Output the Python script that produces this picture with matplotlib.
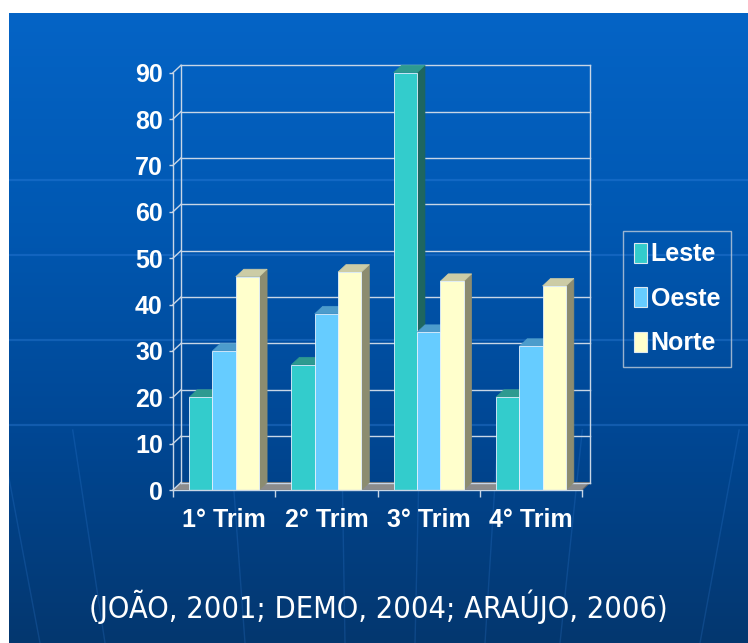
import numpy as np
import matplotlib
matplotlib.use("Agg")
import matplotlib.pyplot as plt
from matplotlib import font_manager
from matplotlib.colors import LinearSegmentedColormap
from matplotlib.patches import Polygon, Rectangle

# dados do grafico
trimestres = ["1° Trim", "2° Trim", "3° Trim", "4° Trim"]
series = ["Leste", "Oeste", "Norte"]
leste = [20, 27, 90, 20]
oeste = [30, 38, 34, 31]
norte = [46, 47, 45, 44]
yticks = [0, 10, 20, 30, 40, 50, 60, 70, 80, 90]
fonte = "(JOÃO, 2001; DEMO, 2004; ARAÚJO, 2006)"

# frente, topo, lado de cada serie
cores = {
    "Leste": ("#33CCCC", "#2E9A90", "#1E6660"),
    "Oeste": ("#66CCFF", "#4C9CCC", "#3A7A9E"),
    "Norte": ("#FFFFCC", "#CCCCA6", "#8C8C70"),
}
cor_grade = "#C8D6E6"

nomes = {f.name for f in font_manager.fontManager.ttflist}
if "Liberation Sans Narrow" in nomes:
    fam_bold, tam_bold = "Liberation Sans Narrow", 21.5
else:
    fam_bold, tam_bold = "Liberation Sans", 18
condensada = any(f.name == "DejaVu Sans" and str(f.stretch) == "condensed"
                 for f in font_manager.fontManager.ttflist)

W, H = 748, 643
fig = plt.figure(figsize=(W / 100, H / 100), dpi=100, facecolor="white")

# fundo azul em degrade
bg = fig.add_axes([9 / W, 0, 1 - 9 / W, 1 - 13 / H])
degrade = LinearSegmentedColormap.from_list(
    "fundo", ["#0564C6", "#0058B2", "#004794", "#04376F"])
bg.imshow(np.linspace(0, 1, 256)[:, None], aspect="auto", cmap=degrade,
          extent=[0, 1, 0, 1])
bg.set_xlim(0, 1)
bg.set_ylim(0, 1)
bg.set_axis_off()
# linhas tenues do globo
for ypx in [180, 255, 340, 425]:
    yy = (H - ypx) / (H - 13)
    bg.plot([0, 1], [yy, yy], color="#3C8AE6", alpha=0.3, lw=1.6)
for xb in [40, 105, 245, 345, 415, 485, 560, 700]:
    xt = xb - (374 - xb) * 0.12
    bg.plot([(xt - 9) / (W - 9), (xb - 9) / (W - 9)], [(H - 430) / (H - 13), 0],
            color="#3C8AE6", alpha=0.2, lw=1.0)

# area do grafico
px0, px1, py0, py1 = 173, 582, 490, 72.7
ax = fig.add_axes([px0 / W, (H - py0) / H, (px1 - px0) / W, (py0 - py1) / H])
ax.set_xlim(0, 4)
ax.set_ylim(0, 90)
ax.patch.set_visible(False)

dx = 8 / (px1 - px0) * 4
dy = 7.5 / (py0 - py1) * 90

# piso
ax.add_patch(Polygon([(0, 0), (4, 0), (4 + dx, dy), (dx, dy)], closed=True,
                     facecolor="#8C8C8C", edgecolor="#6A6A6A", lw=0.8,
                     clip_on=False, zorder=1))
# parede do fundo
for v in yticks:
    ax.plot([dx, 4 + dx], [v + dy, v + dy], color=cor_grade, lw=1, clip_on=False, zorder=1.5)
    ax.plot([0, dx], [v, v + dy], color=cor_grade, lw=1, clip_on=False, zorder=1.5)
ax.plot([dx, dx], [dy, 90 + dy], color=cor_grade, lw=1, clip_on=False, zorder=1.5)
ax.plot([4 + dx, 4 + dx], [dy, 90 + dy], color=cor_grade, lw=1, clip_on=False, zorder=1.5)

# barras 3d
w = 0.228
folga = (1 - 3 * w) / 2
for i in range(len(trimestres)):
    for j, (nome, vals) in enumerate(zip(series, [leste, oeste, norte])):
        h = vals[i]
        xa = i + folga + j * w
        xb = xa + w
        frente, topo, lado = cores[nome]
        ax.add_patch(Polygon([(xb, 0), (xb + dx, dy), (xb + dx, h + dy), (xb, h)],
                             closed=True, facecolor=lado, edgecolor=lado, lw=0.5,
                             clip_on=False, zorder=3))
        ax.add_patch(Polygon([(xa, h), (xb, h), (xb + dx, h + dy), (xa + dx, h + dy)],
                             closed=True, facecolor=topo, edgecolor=topo, lw=0.5,
                             clip_on=False, zorder=3))
        ax.add_patch(Rectangle((xa, 0), w, h, facecolor=frente, edgecolor="#E4F2FF",
                               lw=0.6, clip_on=False, zorder=3))

# eixos frontais
for s in ["top", "right"]:
    ax.spines[s].set_visible(False)
for s in ["left", "bottom"]:
    ax.spines[s].set_color(cor_grade)
    ax.spines[s].set_linewidth(1)
    ax.spines[s].set_zorder(4)

ax.set_yticks(yticks)
ax.set_yticklabels([str(v) for v in yticks])
ax.tick_params(axis="y", direction="out", length=3, width=1, color=cor_grade,
               pad=4.3, labelcolor="white")
ax.set_xticks([0, 1, 2, 3, 4])
ax.set_xticklabels([])
ax.tick_params(axis="x", which="major", direction="out", length=5, width=1,
               color=cor_grade)
ax.set_xticks([0.5, 1.5, 2.5, 3.5], minor=True)
ax.set_xticklabels(trimestres, minor=True)
ax.tick_params(axis="x", which="minor", length=0, pad=13, labelcolor="white")
for lab in ax.get_yticklabels() + ax.get_xticklabels(minor=True):
    lab.set_fontfamily(fam_bold)
    lab.set_fontweight("bold")
    lab.set_fontsize(tam_bold)

# legenda
alcas = [Rectangle((0, 0), 1, 1, facecolor=cores[n][0], edgecolor="#DDE8F0", lw=0.8)
         for n in series]
leg = fig.legend(alcas, series, loc="upper left",
                 bbox_to_anchor=(623 / W, 1 - 231 / H), bbox_transform=fig.transFigure,
                 frameon=True, fancybox=False, edgecolor="#C0CCDA", facecolor="none",
                 prop=dict(family=fam_bold, weight="bold", size=tam_bold),
                 labelcolor="white", handlelength=0.5, handleheight=0.85,
                 handletextpad=0.15, labelspacing=0.82, borderpad=0.45, borderaxespad=0)
leg.get_frame().set_linewidth(1)

# fonte dos dados
txt = fig.text(378 / W, 1 - 607 / H, fonte, ha="center", va="center", color="white",
               family="DejaVu Sans", stretch="condensed" if condensada else "normal",
               fontsize=20)
fig.canvas.draw()
larg = txt.get_window_extent().width
txt.set_fontsize(20 * 577 / larg)

fig.savefig("out.png", dpi=100, facecolor="white")
